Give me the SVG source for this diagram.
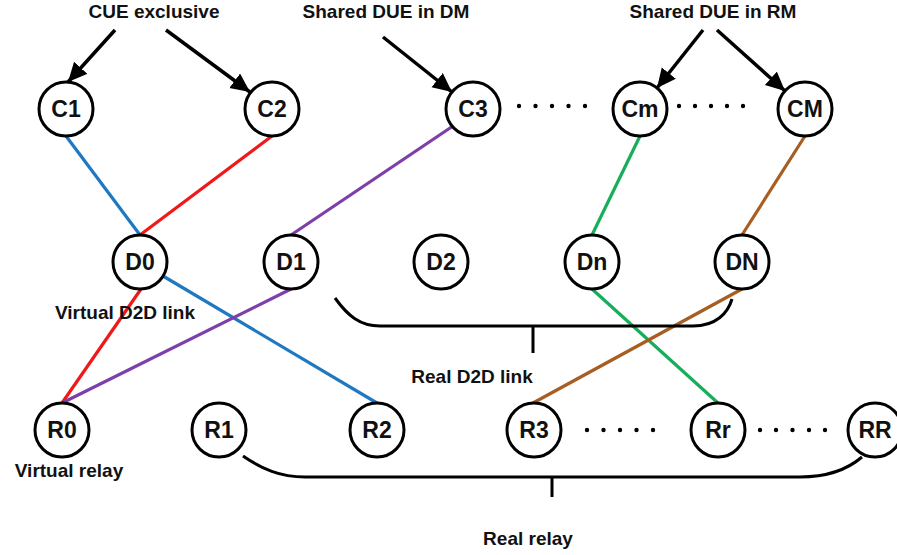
<svg xmlns="http://www.w3.org/2000/svg" width="897" height="555" viewBox="0 0 897 555">
<style>
.lbl{font-family:"Liberation Sans",Arial,sans-serif;font-weight:bold;font-size:19px;fill:#111;text-anchor:middle}
.nt{font-family:"Liberation Sans",Arial,sans-serif;font-weight:bold;font-size:23px;fill:#111;text-anchor:middle}
.node circle{fill:#fff;stroke:#000;stroke-width:3}
.arr{stroke:#000;stroke-width:3.5;fill:none;marker-end:url(#ah)}
.ln{stroke-width:3.2;fill:none}
.blue{stroke:#1E78C2}.red{stroke:#F01818}.purple{stroke:#7E3FA8}.green{stroke:#16AE5A}.brown{stroke:#A65E22}
.brace{stroke:#000;stroke-width:3;fill:none}
.dot{fill:#000}
</style>
<defs>
<marker id="ah" markerUnits="userSpaceOnUse" markerWidth="22" markerHeight="20" refX="19" refY="9" orient="auto">
<path d="M0,0 L19,9 L0,18 z" fill="#000"/>
</marker>
</defs>
<rect width="897" height="555" fill="#fff"/>
<g id="connectors">
<line class="arr" x1="115" y1="30" x2="68" y2="82"/>
<line class="arr" x1="166" y1="30" x2="250" y2="92"/>
<line class="arr" x1="383" y1="37" x2="452" y2="92"/>
<line class="arr" x1="703" y1="30" x2="657" y2="88"/>
<line class="arr" x1="717" y1="30" x2="785" y2="91"/>
<line class="ln blue" x1="66" y1="136" x2="140" y2="235"/>
<line class="ln red" x1="272" y1="136" x2="140" y2="235"/>
<line class="ln purple" x1="453" y1="126" x2="291" y2="235"/>
<line class="ln green" x1="640" y1="136" x2="592" y2="235"/>
<line class="ln brown" x1="805" y1="136" x2="742" y2="235"/>
<line class="ln blue" x1="163" y1="276" x2="377" y2="403"/>
<line class="ln red" x1="141" y1="289" x2="62" y2="403"/>
<line class="ln purple" x1="291" y1="289" x2="62" y2="403"/>
<line class="ln green" x1="592" y1="289" x2="718" y2="403"/>
<line class="ln brown" x1="742" y1="289" x2="533" y2="403"/>
<path class="brace" d="M335,298 C348,316 360,326 380,326 L693,326 C716,326 728,313 732,299 M533,326 V353"/>
<path class="brace" d="M243,456 C262,469 280,477 305,477 L800,477 C828,477 848,469 862,457 M552,477 V497"/>
</g>
<g id="dots">
<circle class="dot" cx="519" cy="106" r="2.2"/><circle class="dot" cx="535.5" cy="106" r="2.2"/><circle class="dot" cx="552" cy="106" r="2.2"/><circle class="dot" cx="568.5" cy="106" r="2.2"/><circle class="dot" cx="585" cy="106" r="2.2"/>
<circle class="dot" cx="679" cy="106" r="2.2"/><circle class="dot" cx="695" cy="106" r="2.2"/><circle class="dot" cx="711" cy="106" r="2.2"/><circle class="dot" cx="727" cy="106" r="2.2"/><circle class="dot" cx="743" cy="106" r="2.2"/>
<circle class="dot" cx="587" cy="430" r="2.2"/><circle class="dot" cx="603.5" cy="430" r="2.2"/><circle class="dot" cx="620" cy="430" r="2.2"/><circle class="dot" cx="636.5" cy="430" r="2.2"/><circle class="dot" cx="653" cy="430" r="2.2"/>
<circle class="dot" cx="760" cy="430" r="2.2"/><circle class="dot" cx="776" cy="430" r="2.2"/><circle class="dot" cx="792.5" cy="430" r="2.2"/><circle class="dot" cx="809" cy="430" r="2.2"/><circle class="dot" cx="825" cy="430" r="2.2"/>
</g>
<g id="C1" class="node"><circle cx="66" cy="109" r="27"/><text class="nt" x="66" y="117">C1</text></g>
<g id="C2" class="node"><circle cx="272" cy="109" r="27"/><text class="nt" x="272" y="117">C2</text></g>
<g id="C3" class="node"><circle cx="473" cy="109" r="27"/><text class="nt" x="473" y="117">C3</text></g>
<g id="Cm" class="node"><circle cx="640" cy="109" r="27"/><text class="nt" x="640" y="117">Cm</text></g>
<g id="CM" class="node"><circle cx="805" cy="109" r="27"/><text class="nt" x="805" y="117">CM</text></g>
<g id="D0" class="node"><circle cx="140" cy="262" r="27"/><text class="nt" x="140" y="270">D0</text></g>
<g id="D1" class="node"><circle cx="291" cy="262" r="27"/><text class="nt" x="291" y="270">D1</text></g>
<g id="D2" class="node"><circle cx="441" cy="262" r="27"/><text class="nt" x="441" y="270">D2</text></g>
<g id="Dn" class="node"><circle cx="592" cy="262" r="27"/><text class="nt" x="592" y="270">Dn</text></g>
<g id="DN" class="node"><circle cx="742" cy="262" r="27"/><text class="nt" x="742" y="270">DN</text></g>
<g id="R0" class="node"><circle cx="62" cy="430" r="27"/><text class="nt" x="62" y="438">R0</text></g>
<g id="R1" class="node"><circle cx="219" cy="430" r="27"/><text class="nt" x="219" y="438">R1</text></g>
<g id="R2" class="node"><circle cx="377" cy="430" r="27"/><text class="nt" x="377" y="438">R2</text></g>
<g id="R3" class="node"><circle cx="534" cy="430" r="27"/><text class="nt" x="534" y="438">R3</text></g>
<g id="Rr" class="node"><circle cx="718" cy="430" r="27"/><text class="nt" x="718" y="438">Rr</text></g>
<g id="RR" class="node"><circle cx="875" cy="430" r="27"/><text class="nt" x="875" y="438">RR</text></g>
<g id="labels">
<text class="lbl" x="154" y="18">CUE exclusive</text>
<text class="lbl" x="386" y="18">Shared DUE in DM</text>
<text class="lbl" x="713" y="18">Shared DUE in RM</text>
<text class="lbl" x="125" y="319">Virtual D2D link</text>
<text class="lbl" x="472" y="383">Real D2D link</text>
<text class="lbl" x="69" y="477">Virtual relay</text>
<text class="lbl" x="528" y="545">Real relay</text>
</g>
</svg>
